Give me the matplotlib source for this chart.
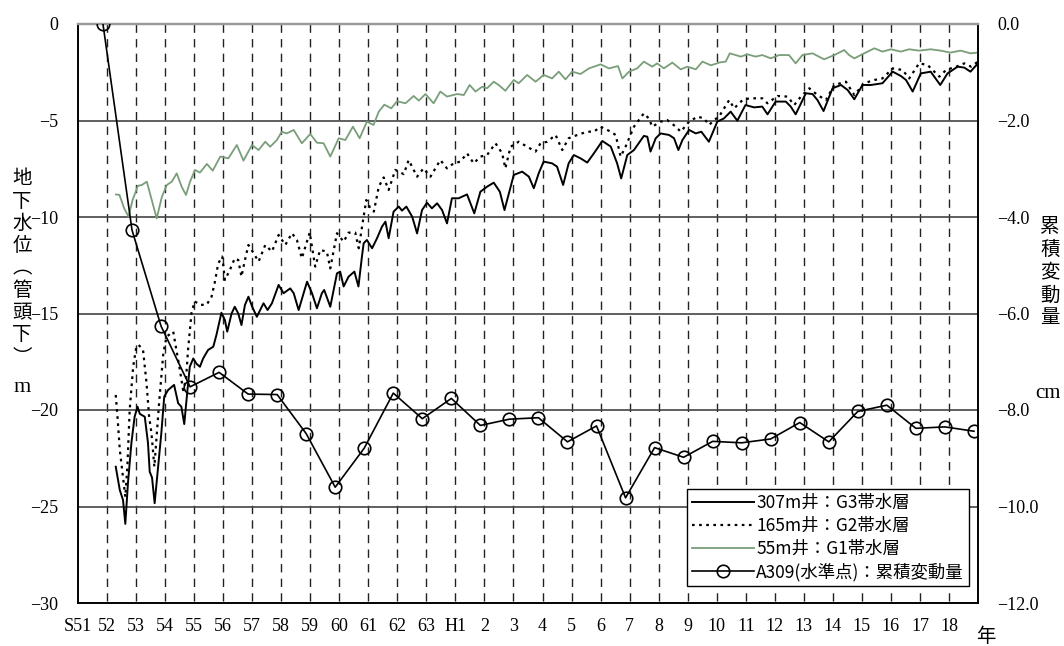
import matplotlib.pyplot as plt
from matplotlib.ticker import FixedLocator

plt.rcParams['font.family'] = ['Noto Sans CJK JP', 'DejaVu Sans']
plt.rcParams['axes.unicode_minus'] = True

# 横軸ラベル（S51=1976年 を 0 とした年数）
year_labels = ['S51'] + [str(y) for y in range(52, 64)] + ['H1'] + [str(y) for y in range(2, 19)]

# 307m井：G3帯水層 (時刻[年], 水位[m])
g3_t = [1.30, 1.44, 1.55, 1.63, 1.72, 1.84, 1.95, 2.05, 2.13, 2.30, 2.41, 2.47, 2.55, 2.64, 2.76,
        2.87, 2.97, 3.10, 3.31, 3.45, 3.56, 3.66, 3.77, 3.85, 3.97, 4.08, 4.20, 4.31, 4.48, 4.66,
        4.77, 4.94, 5.06, 5.14, 5.29, 5.40, 5.52, 5.63, 5.75, 5.87, 6.00, 6.16, 6.39, 6.53, 6.68,
        6.91, 7.08, 7.31, 7.43, 7.60, 7.89, 8.06, 8.23, 8.40, 8.48, 8.69, 8.92, 9.03, 9.15, 9.32,
        9.52, 9.66, 9.78, 9.84, 9.95, 10.13, 10.30, 10.47, 10.59, 10.70, 10.87, 11.05, 11.16, 11.31,
        11.51, 11.68, 11.85, 12.02, 12.19, 12.37, 12.54, 12.71, 12.88, 13.11, 13.40, 13.65, 13.86,
        14.09, 14.32, 14.53, 14.69, 15.01, 15.30, 15.53, 15.70, 15.87, 16.04, 16.33, 16.50, 16.71,
        16.90, 17.08, 17.31, 17.54, 17.77, 18.06, 18.35, 18.57, 18.71, 18.92, 19.15, 19.49, 19.61,
        19.72, 19.90, 20.07, 20.36, 20.53, 20.68, 20.82, 21.05, 21.28, 21.47, 21.73, 22.02, 22.25,
        22.48, 22.71, 22.99, 23.29, 23.57, 23.75, 24.03, 24.38, 24.55, 24.72, 25.07, 25.30, 25.47,
        25.68, 25.99, 26.28, 26.51, 26.74, 27.02, 27.31, 27.71, 28.06, 28.34, 28.52, 28.75, 29.03,
        29.37, 29.70, 29.95, 30.30, 30.53, 30.74, 31.00]
g3_v = [-22.94, -24.15, -24.66, -25.90, -23.80, -21.70, -20.35, -19.83, -20.20, -20.35, -21.70,
        -23.20, -23.50, -24.83, -22.94, -21.20, -19.31, -18.97, -18.70, -19.65, -19.83, -20.73,
        -18.97, -17.76, -17.33, -17.60, -17.76, -17.33, -16.89, -16.72, -16.10, -14.96, -15.34,
        -15.94, -15.00, -14.65, -15.00, -15.60, -14.56, -14.13, -14.65, -15.17, -14.47, -14.82,
        -14.47, -13.52, -13.95, -13.70, -13.95, -14.82, -13.35, -13.95, -14.73, -13.95, -13.78,
        -14.65, -12.92, -12.83, -13.60, -13.09, -12.83, -13.60, -12.05, -11.36, -11.19, -11.62,
        -11.10, -10.50, -10.24, -11.10, -9.72, -9.46, -9.67, -9.46, -9.98, -10.85, -9.64, -9.26,
        -9.55, -9.29, -9.64, -10.33, -9.03, -9.03, -8.83, -9.81, -8.69, -8.43, -8.22, -8.69, -9.64,
        -7.82, -7.65, -7.91, -8.51, -7.73, -7.13, -7.22, -7.39, -8.34, -7.22, -6.79, -6.96, -7.18,
        -6.70, -6.06, -6.35, -7.22, -8.00, -6.79, -6.53, -5.80, -5.84, -6.61, -5.92, -5.67, -5.75,
        -5.92, -6.53, -6.01, -5.49, -5.67, -5.58, -6.10, -5.06, -4.89, -4.54, -5.01, -4.20, -4.32,
        -4.28, -4.68, -4.02, -4.02, -4.28, -4.68, -3.59, -3.63, -3.94, -4.51, -3.33, -3.16, -3.42,
        -3.90, -3.16, -3.16, -3.07, -2.47, -2.69, -2.90, -3.50, -2.56, -2.47, -3.16, -2.56, -2.21,
        -2.26, -2.47, -2.04]

# 165m井：G2帯水層
g2_t = [1.30, 1.36, 1.44, 1.55, 1.63, 1.70, 1.78, 1.90, 2.01, 2.09, 2.24, 2.36, 2.45, 2.53, 2.63,
        2.80, 2.94, 3.05, 3.28, 3.39, 3.51, 3.62, 3.72, 3.79, 3.91, 4.02, 4.20, 4.43, 4.60, 4.71,
        4.83, 4.97, 5.06, 5.23, 5.40, 5.52, 5.63, 5.75, 5.87, 6.05, 6.22, 6.45, 6.68, 6.91, 7.14,
        7.37, 7.54, 7.71, 7.98, 8.17, 8.34, 8.57, 8.69, 8.92, 9.15, 9.32, 9.55, 9.67, 9.82, 9.93,
        10.07, 10.19, 10.36, 10.53, 10.70, 10.93, 11.22, 11.39, 11.68, 11.90, 12.14, 12.48, 12.71,
        12.94, 13.17, 13.40, 13.63, 13.86, 14.09, 14.38, 14.61, 14.72, 14.90, 15.18, 15.47, 15.76,
        15.93, 16.16, 16.45, 16.68, 16.90, 17.20, 17.54, 17.77, 18.00, 18.35, 18.52, 18.69, 18.86,
        19.15, 19.49, 19.66, 19.78, 20.07, 20.30, 20.59, 20.76, 21.05, 21.34, 21.56, 21.74, 21.91,
        22.08, 22.43, 22.60, 22.89, 23.13, 23.40, 23.57, 23.75, 24.09, 24.44, 24.67, 24.90, 25.19,
        25.47, 25.76, 26.05, 26.45, 26.74, 27.08, 27.43, 27.71, 28.06, 28.40, 28.63, 28.97, 29.26,
        29.67, 29.90, 30.25, 30.53, 30.76, 31.00]
g2_v = [-19.22, -20.35, -22.07, -23.45, -24.50, -22.94, -20.00, -17.76, -16.72, -16.63, -16.89,
        -18.60, -20.35, -21.20, -22.94, -19.50, -17.05, -16.20, -15.94, -16.89, -17.93, -18.97,
        -18.40, -16.89, -14.96, -14.37, -14.55, -14.55, -14.13, -13.40, -12.40, -12.05, -13.26,
        -12.75, -12.14, -12.23, -13.09, -12.23, -11.45, -11.88, -12.31, -11.45, -11.79, -10.93,
        -11.45, -10.84, -11.19, -12.14, -10.81, -12.57, -11.71, -11.79, -12.66, -10.84, -11.28,
        -10.81, -10.81, -11.62, -10.15, -9.12, -9.55, -9.72, -8.43, -7.95, -8.60, -7.56, -7.78,
        -7.05, -7.91, -7.48, -7.91, -7.05, -7.48, -7.22, -7.13, -6.70, -7.22, -6.87, -6.79, -6.18,
        -6.70, -7.48, -6.36, -6.10, -6.36, -6.61, -6.18, -6.10, -5.75, -6.53, -5.92, -5.75, -5.58,
        -5.58, -5.32, -5.58, -5.75, -6.87, -6.36, -5.32, -4.63, -4.89, -5.32, -5.06, -4.98, -5.32,
        -5.58, -5.06, -4.80, -4.89, -5.23, -4.98, -4.80, -3.94, -4.37, -3.94, -3.85, -3.85, -3.85,
        -4.11, -3.73, -3.76, -4.20, -3.76, -3.33, -3.68, -3.94, -3.16, -2.99, -3.68, -3.07, -2.90,
        -2.82, -2.30, -2.38, -2.82, -2.04, -2.12, -2.73, -2.38, -2.21, -2.04, -2.21, -1.95]

# 55m井：G1帯水層
g1_t = [1.31, 1.43, 1.59, 1.74, 1.88, 2.06, 2.20, 2.37, 2.54, 2.71, 2.89, 3.06, 3.23, 3.40, 3.57,
        3.72, 3.86, 4.03, 4.20, 4.44, 4.64, 4.90, 5.18, 5.47, 5.70, 5.99, 6.22, 6.45, 6.62, 6.85,
        7.02, 7.19, 7.43, 7.71, 8.00, 8.23, 8.46, 8.69, 8.98, 9.21, 9.47, 9.70, 9.95, 10.18, 10.36,
        10.55, 10.79, 10.99, 11.28, 11.56, 11.74, 11.97, 12.25, 12.48, 12.71, 13.06, 13.29, 13.49,
        13.69, 13.92, 14.09, 14.32, 14.49, 14.72, 15.01, 15.18, 15.47, 15.76, 16.04, 16.33, 16.56,
        16.79, 17.02, 17.31, 17.60, 18.00, 18.29, 18.60, 18.75, 18.98, 19.26, 19.49, 19.78, 19.95,
        20.18, 20.47, 20.76, 20.99, 21.28, 21.51, 21.80, 22.11, 22.31, 22.45, 22.83, 23.06, 23.34,
        23.57, 23.86, 24.15, 24.49, 24.72, 24.95, 25.30, 25.70, 26.05, 26.39, 26.56, 26.74, 27.08,
        27.43, 27.71, 28.00, 28.34, 28.63, 28.97, 29.37, 29.71, 30.05, 30.40, 30.74, 31.00]
g1_v = [-8.83, -8.86, -9.55, -9.98, -9.12, -8.39, -8.34, -8.17, -9.12, -10.07, -8.95, -8.34, -8.17,
        -7.74, -8.43, -8.86, -8.17, -7.56, -7.70, -7.25, -7.60, -6.87, -6.96, -6.27, -7.08, -6.27,
        -6.53, -6.10, -6.36, -6.01, -5.58, -5.67, -5.49, -6.18, -5.70, -6.15, -6.18, -6.87, -5.92,
        -6.01, -5.32, -5.92, -5.06, -5.23, -4.54, -4.18, -4.37, -4.00, -4.11, -3.73, -3.97, -3.63,
        -4.11, -3.50, -3.76, -3.63, -3.68, -3.16, -3.50, -3.25, -3.33, -2.99, -3.16, -3.46, -2.90,
        -3.07, -2.64, -2.99, -2.64, -2.82, -2.47, -2.87, -2.47, -2.59, -2.30, -2.09, -2.30, -2.18,
        -2.82, -2.47, -2.30, -1.95, -2.21, -2.04, -2.30, -2.00, -2.35, -2.21, -2.35, -1.95, -2.14,
        -1.99, -1.95, -1.52, -1.69, -1.57, -1.69, -1.61, -1.78, -1.61, -1.61, -2.04, -1.61, -1.52,
        -1.83, -1.61, -1.35, -1.61, -1.78, -1.52, -1.26, -1.43, -1.31, -1.43, -1.31, -1.38, -1.31,
        -1.38, -1.48, -1.38, -1.52, -1.48]

# A309(水準点)：累積変動量 [cm]  S51〜H18 毎年11月測量
survey_year = list(range(31))
survey_cm = [0.0, -4.27, -6.26, -7.52, -7.22, -7.67, -7.68, -8.49, -9.60, -8.79, -7.65, -8.18,
             -7.76, -8.32, -8.19, -8.16, -8.66, -8.33, -9.82, -8.78, -8.98, -8.65, -8.68, -8.60,
             -8.26, -8.66, -8.03, -7.90, -8.38, -8.35, -8.44]
SURVEY_OFFSET = 0.86

left_ticks = [0, -5, -10, -15, -20, -25, -30]
right_ticks = [0, -2, -4, -6, -8, -10, -12]

fig = plt.figure(figsize=(10.64, 6.46), dpi=100)
ax = fig.add_axes([78 / 1064, 1 - 603 / 646, 900 / 1064, 579 / 646])
ax2 = ax.twinx()

ax.set_xlim(0, 31)
ax.set_ylim(-30, 0)
ax2.set_ylim(-12, 0)

# 縦の破線（各年）
for i in range(1, 31):
    ax.plot([i, i], [0, -30], color='#222222', lw=1.0, dashes=(6, 4.5), zorder=1)
# 横線
for v in left_ticks[1:-1]:
    ax.axhline(v, color='#444444', lw=1.2, zorder=1)

l1, = ax.plot(g3_t, g3_v, color='black', lw=1.4, zorder=3, label='307m井：G3帯水層')
l2, = ax.plot(g2_t, g2_v, color='black', lw=1.6, linestyle=(0, (1.2, 2.0)), zorder=3,
              label='165m井：G2帯水層')
l3, = ax.plot(g1_t, g1_v, color='#7a9e7a', lw=1.3, zorder=3, label='55m井：G1帯水層')
l4, = ax2.plot([y + SURVEY_OFFSET for y in survey_year], survey_cm, color='black', lw=1.2,
               marker='o', markersize=9, markerfacecolor='none', markeredgewidth=1.2,
               label='A309(水準点)：累積変動量', zorder=4)

serif = 'Liberation Serif'
ax.tick_params(axis='x', length=0, pad=11, labelsize=13, labelfontfamily=serif)
ax.tick_params(axis='y', length=0, pad=14, labelsize=13, labelfontfamily=serif)
ax2.tick_params(axis='y', length=0, pad=14, labelsize=13, labelfontfamily=serif)

ax.xaxis.set_major_locator(FixedLocator(range(31)))
ax.set_xticklabels(year_labels)
ax.set_yticks(left_ticks)
ax.set_yticklabels([('\u2212' + str(-v)) if v < 0 else '0' for v in left_ticks])
ax2.set_yticks(right_ticks)
ax2.set_yticklabels([('\u2212' if v < 0 else '') + f'{abs(v):.1f}' for v in right_ticks])

for a in (ax, ax2):
    a.spines['top'].set_color('#999999')
    a.spines['top'].set_linewidth(1.6)
    for s in ('left', 'right', 'bottom'):
        a.spines[s].set_color('black')
        a.spines[s].set_linewidth(1.2)

leg = ax2.legend(handles=[l1, l2, l3, l4], loc='lower right', bbox_to_anchor=(0.99, 0.029),
                 fontsize=12.5, handlelength=3.6, handletextpad=0.1, labelspacing=0.28,
                 borderpad=0.3, borderaxespad=0, fancybox=False, framealpha=1,
                 edgecolor='black')
leg.get_frame().set_linewidth(1.0)

# 軸ラベル（縦書き）
fig.text(22 / 1064, 1 - 268 / 646, '\n'.join('地下水位︵管頭下︶'), ha='center', va='center',
         fontsize=14, linespacing=1.08)
fig.text(22 / 1064, 1 - 387 / 646, 'm', ha='center', va='center', fontsize=16, family=serif)
fig.text(1050 / 1064, 1 - 272 / 646, '\n'.join('累積変動量'), ha='center', va='center',
         fontsize=14, linespacing=1.12)
fig.text(1048 / 1064, 1 - 394 / 646, 'cm', ha='center', va='center', fontsize=15, family=serif)
fig.text(986 / 1064, 1 - 636 / 646, '年', ha='center', va='center', fontsize=14)

fig.savefig('out.png', dpi=100)
